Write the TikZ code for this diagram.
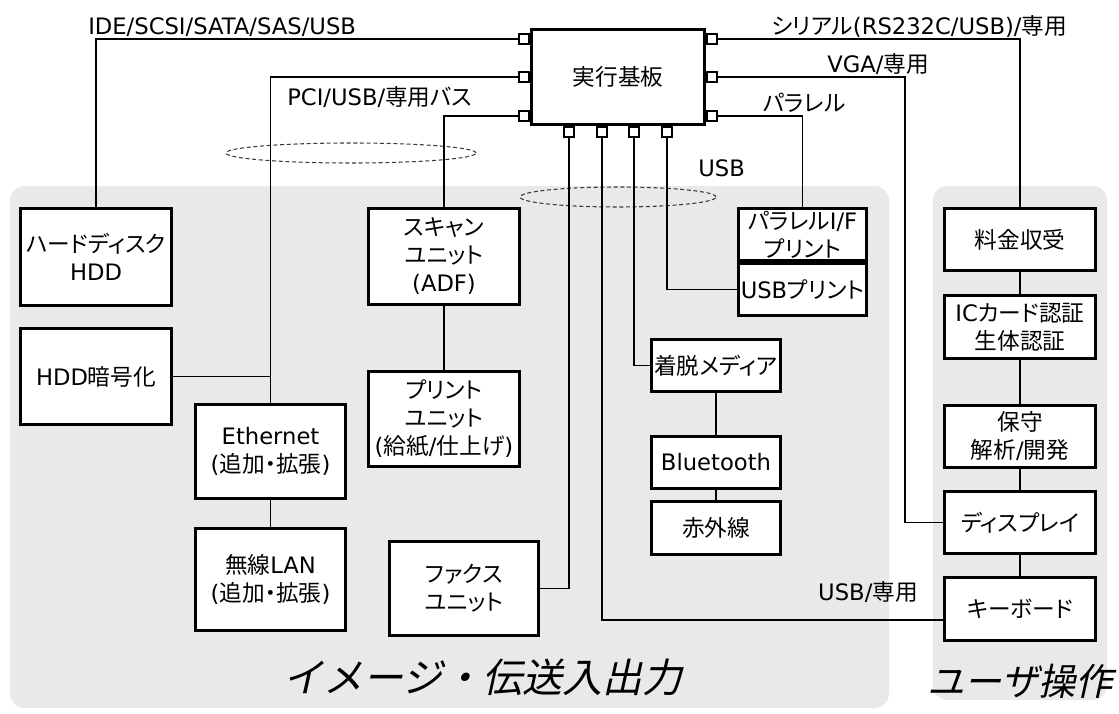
\documentclass[tikz,border=0pt]{standalone}
\usepackage{fontspec}
\setmainfont{Noto Sans CJK JP}[RawFeature=+palt]
\newfontfamily\latf{DejaVu Sans}
\newfontfamily\jpit{Noto Sans CJK JP}[FakeSlant=0.22]
\definecolor{panelgray}{HTML}{E9E9E9}
\definecolor{busgray}{HTML}{3A3A3A}
\newcommand\bx[6]{%
  \pgfmathsetmacro\bxw{(#4-#2-3)*0.75}%
  \pgfmathsetmacro\bxh{(#5-#3-3)*0.75}%
  \pgfmathsetmacro\bxx{(#2+#4)/2}%
  \pgfmathsetmacro\bxy{(#3+#5)/2}%
  \node[box, minimum width=\bxw pt, minimum height=\bxh pt] (#1) at (\bxx,\bxy) {#6};}
\begin{document}
\begin{tikzpicture}[x=0.75pt,y=-0.75pt,
  panel/.style={fill=panelgray, draw=none, rounded corners=11pt},
  box/.style={draw=black, line width=2.5pt, fill=white, inner sep=0pt, align=center,
    font=\fontsize{17}{21}\selectfont},
  port/.style={draw=black, line width=1.8pt, fill=white, minimum size=7.6pt, inner sep=0pt},
  link/.style={draw=black, line width=0.8pt},
  bus/.style={draw=busgray, dash pattern=on 3pt off 2pt, line width=0.8pt},
  lbl/.style={inner sep=0pt, font=\fontsize{17}{21}\selectfont},
  title/.style={inner sep=0pt, font=\jpit\fontsize{30}{30}\selectfont}]
\useasboundingbox (0,0) rectangle (1119,713);
% panels
\fill[panel] (10,186) rectangle (889,708);
\fill[panel] (933,186) rectangle (1107,700);
% bus ellipses
\draw[bus] (351,153) ellipse [x radius=93.75pt, y radius=7.5pt];
\draw[bus] (618,197) ellipse [x radius=73.5pt, y radius=7.5pt];
% board and boxes
\bx{board}{530}{28}{706}{126}{実行基板}
\bx{hdd}{19}{207}{173}{307}{ハードディスク\\{\latf HDD}}
\bx{enc}{19}{327}{173}{426}{{\latf HDD}暗号化}
\bx{eth}{194}{403}{347}{500}{{\latf Ethernet}\\{\latf(}追加・拡張{\latf)}}
\bx{wlan}{194}{527}{347}{632}{無線{\latf LAN}\\{\latf(}追加・拡張{\latf)}}
\bx{scan}{367}{207}{521}{306}{スキャン\\ユニット\\{\latf(ADF)}}
\bx{print}{367}{370}{521}{468}{プリント\\ユニット\\{\latf(}給紙{\latf/}仕上げ{\latf)}}
\bx{fax}{388}{540}{540}{637}{ファクス\\ユニット}
\bx{par}{737}{207}{868}{262}{パラレル{\latf I/F}\\プリント}
\bx{usbp}{737}{262}{868}{317}{{\latf USB}プリント}
\bx{media}{650}{338}{782}{393}{着脱メディア}
\bx{bt}{650}{435}{782}{490}{{\latf Bluetooth}}
\bx{ir}{650}{500}{782}{556}{赤外線}
\bx{fee}{943}{207}{1097}{272}{料金収受}
\bx{ic}{943}{294}{1097}{360}{{\latf IC}カード認証\\生体認証}
\bx{maint}{943}{404}{1097}{469}{保守\\解析{\latf/}開発}
\bx{disp}{943}{490}{1097}{555}{ディスプレイ}
\bx{kb}{943}{576}{1097}{642}{キーボード}
% ports
\node[port] (pL1) at (524,39) {};
\node[port] (pL2) at (524,77) {};
\node[port] (pL3) at (524,116) {};
\node[port] (pR1) at (712,39) {};
\node[port] (pR2) at (712,77) {};
\node[port] (pR3) at (712,116) {};
\node[port] (pB1) at (569,132) {};
\node[port] (pB2) at (602,132) {};
\node[port] (pB3) at (634,132) {};
\node[port] (pB4) at (667,132) {};
\coordinate (vgaX) at (905,300);
% connectors
\draw[link] (pL1.west) -| (hdd.north);
\draw[link] (pL2.west) -| (eth.north);
\draw[link] (enc.east) -- (enc.east -| eth.north);
\draw[link] (eth.south) -- (wlan.north);
\draw[link] (pL3.west) -| (scan.north);
\draw[link] (scan.south) -- (print.north);
\draw[link] (pB1.south) |- (fax.east);
\draw[link] (pB2.south) |- ([yshift=-8.25pt]kb.west);
\draw[link] (pB3.south) |- (media.west);
\draw[link] (pB4.south) |- (usbp.west);
\draw[link] (media.south) -- (bt.north);
\draw[link] (bt.south) -- (ir.north);
\draw[link] (pR3.east) -| (par.north);
\draw[link] (pR2.east) -| (vgaX |- disp.west) -- (disp.west);
\draw[link] (pR1.east) -| (fee.north);
\draw[link] (fee.south) -- (ic.north);
\draw[link] (ic.south) -- (maint.north);
\draw[link] (maint.south) -- (disp.north);
\draw[link] (disp.south) -- (kb.north);
% labels
\node[lbl, anchor=base west] (lIde) at (88,35) {\latf IDE/SCSI/SATA/SAS/USB};
\node[lbl, anchor=base west] (lPci) at (287,106) {{\latf PCI/USB/}専用バス};
\node[lbl, anchor=base west] (lSer) at (771,35) {シリアル{\latf (RS232C/USB)/}専用};
\node[lbl, anchor=base west] (lVga) at (827,73) {{\latf VGA/}専用};
\node[lbl, anchor=base west] (lPar) at (763,112) {パラレル};
\node[lbl, anchor=base west] (lUsb) at (698,176) {\latf USB};
\node[lbl, anchor=base east] (lKb) at (918,600) {{\latf USB/}専用};
\node[title, anchor=west] (tImg) at (283,677) {イメージ・伝送入出力};
\node[title, anchor=west, font=\jpit\fontsize{28}{28}\selectfont] (tUser) at (927,681) {ユーザ操作};
\end{tikzpicture}
\end{document}
